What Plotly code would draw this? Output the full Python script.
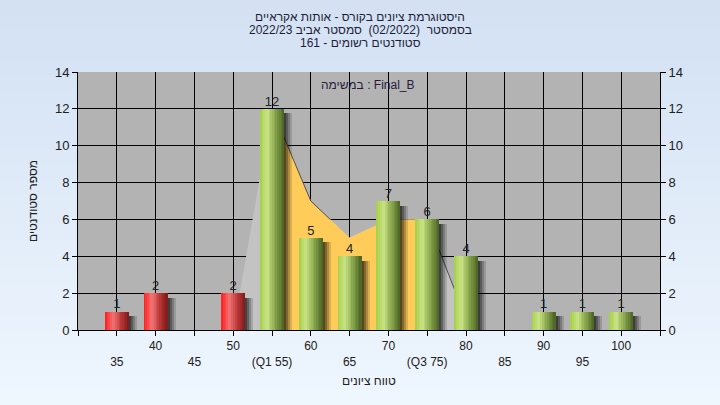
import plotly.graph_objects as go

# ---------------- data ----------------
grades = [35, 40, 45, 50, 55, 60, 65, 70, 75, 80, 85, 90, 95, 100]
counts = [1, 2, 0, 2, 12, 5, 4, 7, 6, 4, 0, 1, 1, 1]
pass_mark = 55

curve_x = [50, 55, 60, 62.5, 65, 70, 75, 80]
curve_y = [0, 12, 7, 6, 5, 6, 6, 0.6]
q1, q3 = 55, 75

axis_ticks = list(range(30, 106, 5))
row1_ticks = [40, 50, 60, 70, 80, 90, 100]
row2_ticks = [35, 45, 55, 65, 75, 85, 95]
row2_labels = ["35", "45", "(Q1 55)", "65", "(Q3 75)", "85", "95"]

title_lines = [
    "היסטוגרמת ציונים בקורס - אותות אקראיים",
    "בסמסטר  (02/2022)  סמסטר אביב 2022/23",
    "סטודנטים רשומים - 161",
]
task_label = "במשימה : Final_B"
x_title = "טווח ציונים"
y_title = "מספר סטודנטים"


# ---------------- helpers ----------------
def lerp_stops(stops, t):
    for (t0, c0), (t1, c1) in zip(stops, stops[1:]):
        if t0 <= t <= t1:
            f = (t - t0) / (t1 - t0)
            c = [round(a + (b - a) * f) for a, b in zip(c0, c1)]
            return "rgb(%d,%d,%d)" % tuple(c)
    return "rgb(%d,%d,%d)" % tuple(stops[-1][1])


RED = [(0, (255, 28, 28)), (0.35, (242, 118, 118)), (0.65, (190, 58, 58)), (1.0, (128, 26, 26))]
GREEN = [(0, (164, 206, 72)), (0.3, (202, 228, 135)), (0.62, (138, 168, 78)), (1.0, (74, 98, 34))]

PX = 582 / 75.0          # pixels per grade unit
BW = 24 / PX             # bar width in grade units
N = 14                   # strips per bar for cylinder shading

bx = [g for g, c in zip(grades, counts) if c > 0]
by = [c for c in counts if c > 0]
is_pass = [g >= pass_mark for g in bx]

fig = go.Figure()

# ---- area curve (base axes, below bars) ----
fig.add_trace(go.Scatter(x=curve_x, y=curve_y, mode="lines", fill="tozeroy",
                         fillcolor="#c3c3c3", line=dict(width=0), hoverinfo="skip",
                         showlegend=False))
iq_x = [x for x in curve_x if q1 <= x <= q3]
iq_y = [y for x, y in zip(curve_x, curve_y) if q1 <= x <= q3]
fig.add_trace(go.Scatter(x=iq_x, y=iq_y, mode="lines", fill="tozeroy",
                         fillcolor="#ffcc5a", line=dict(width=0), hoverinfo="skip",
                         showlegend=False))
e1 = [(x, y) for x, y in zip(curve_x, curve_y) if q1 <= x <= 62.5]
e2 = [(x, y) for x, y in zip(curve_x, curve_y) if x >= q3]
ex = [p[0] for p in e1] + [None] + [p[0] for p in e2]
ey = [p[1] for p in e1] + [None] + [p[1] for p in e2]
fig.add_trace(go.Scatter(x=ex, y=ey, mode="lines", line=dict(color="#505050", width=1),
                         hoverinfo="skip", showlegend=False))

# ---- bar shadows (overlay axes) ----
for d, a in [(8, 0.14), (6, 0.20), (4, 0.26), (2, 0.32)]:
    fig.add_trace(go.Bar(x=bx, y=[v - 0.25 for v in by], width=BW,
                         offset=-BW / 2 + d / PX, xaxis="x2", yaxis="y2",
                         marker=dict(color="rgba(0,0,0,%.2f)" % a, line=dict(width=0)),
                         hoverinfo="skip", showlegend=False))

# ---- shaded bars (strips) ----
step = BW / N
for i in range(N):
    t = (i + 0.5) / N
    cols = [lerp_stops(GREEN if p else RED, t) for p in is_pass]
    w = step * (1.4 if i < N - 1 else 1.0)
    fig.add_trace(go.Bar(x=bx, y=by, width=w, offset=-BW / 2 + i * step,
                         xaxis="x2", yaxis="y2",
                         marker=dict(color=cols, line=dict(width=0)),
                         hoverinfo="skip", showlegend=False))

# ---- value labels ----
fig.add_trace(go.Scatter(x=bx, y=by, mode="text", text=[str(v) for v in by],
                         textposition="top center", xaxis="x2", yaxis="y2",
                         textfont=dict(family="Liberation Sans, Arial", size=13, color="#222222"),
                         cliponaxis=False, hoverinfo="skip", showlegend=False))

# ---- background gradient + plot area ----
shapes = []
nb = 27
top_c = (211, 225, 243)
bot_c = (238, 246, 254)
y_lo = -75 / 258.0
y_hi = 1 + 72 / 258.0
x_lo = -78 / 582.0
x_hi = 1 + 60 / 582.0
for k in range(nb):
    f = k / (nb - 1)
    c = tuple(round(a + (b - a) * f) for a, b in zip(top_c, bot_c))
    y1 = y_hi - (y_hi - y_lo) * k / nb
    y0 = y_hi - (y_hi - y_lo) * (k + 1) / nb - 0.002
    shapes.append(dict(type="rect", xref="paper", yref="paper", x0=x_lo, x1=x_hi,
                       y0=y0, y1=y1, fillcolor="rgb(%d,%d,%d)" % c,
                       line=dict(width=0), layer="below"))
shapes.append(dict(type="rect", xref="paper", yref="paper", x0=0, x1=1, y0=0, y1=1,
                   fillcolor="#b3b3b3", line=dict(width=0), layer="below"))

annotations = []
for j, line in enumerate(title_lines):
    ypx = 17 + 13 * j
    annotations.append(dict(text=line, xref="paper", yref="paper",
                            x=(360 - 78) / 582.0, y=(330 - ypx) / 258.0,
                            xanchor="center", yanchor="middle", showarrow=False,
                            font=dict(family="Liberation Sans, Arial", size=12, color="#1e1e3a")))
annotations.append(dict(text=task_label, xref="paper", yref="paper",
                        x=(368 - 78) / 582.0, y=(330 - 85) / 258.0,
                        xanchor="center", yanchor="middle", showarrow=False,
                        font=dict(family="Liberation Sans, Arial", size=12, color="#2a1a3a")))
annotations.append(dict(text=x_title, xref="paper", yref="paper",
                        x=(369 - 78) / 582.0, y=(330 - 381) / 258.0,
                        xanchor="center", yanchor="middle", showarrow=False,
                        font=dict(family="Liberation Sans, Arial", size=12, color="#202020")))
annotations.append(dict(text=y_title, xref="paper", yref="paper",
                        x=(33 - 78) / 582.0, y=(330 - 201) / 258.0, textangle=-90,
                        xanchor="center", yanchor="middle", showarrow=False,
                        font=dict(family="Liberation Sans, Arial", size=12, color="#202020")))

tick_font_x = dict(family="Liberation Sans Narrow, Liberation Sans, Arial", size=12, color="#202020")
tick_font_y = dict(family="Liberation Sans, Arial", size=13, color="#202020")

fig.update_layout(
    width=720, height=405,
    margin=dict(l=78, r=60, t=72, b=75),
    paper_bgcolor="rgb(238,246,254)",
    plot_bgcolor="rgba(0,0,0,0)",
    barmode="overlay",
    bargap=0,
    shapes=shapes,
    annotations=annotations,
    xaxis=dict(range=[30, 105], tickmode="array", tickvals=axis_ticks,
               ticktext=[str(v) if v in row1_ticks else "" for v in axis_ticks],
               ticks="outside", ticklen=5, tickcolor="black", showline=True,
               linecolor="black", linewidth=1, showgrid=True, gridcolor="black",
               gridwidth=1, zeroline=False, tickfont=tick_font_x, fixedrange=True),
    yaxis=dict(range=[0, 14], dtick=2, ticks="outside", ticklen=5, tickcolor="black",
               showline=True, linecolor="black", linewidth=1, showgrid=True,
               gridcolor="black", gridwidth=1, zeroline=False, tickfont=tick_font_y,
               fixedrange=True),
    xaxis2=dict(range=[30, 105], overlaying="x", side="bottom", anchor="y2",
                tickmode="array", tickvals=row2_ticks, ticktext=row2_labels,
                ticks="", showline=False, showgrid=False, zeroline=False,
                ticklabelstandoff=23, tickfont=tick_font_x, fixedrange=True),
    yaxis2=dict(range=[0, 14], dtick=2, overlaying="y", side="right", anchor="x2",
                ticks="outside", ticklen=5, tickcolor="black", showline=True,
                linecolor="black", linewidth=1, showgrid=False, zeroline=False,
                tickfont=tick_font_y, fixedrange=True),
)

fig.write_html("out.html",
               config={"displayModeBar": False},
               post_script="document.body.style.margin='0';"
                           "document.body.style.background='rgb(238,246,254)';")
